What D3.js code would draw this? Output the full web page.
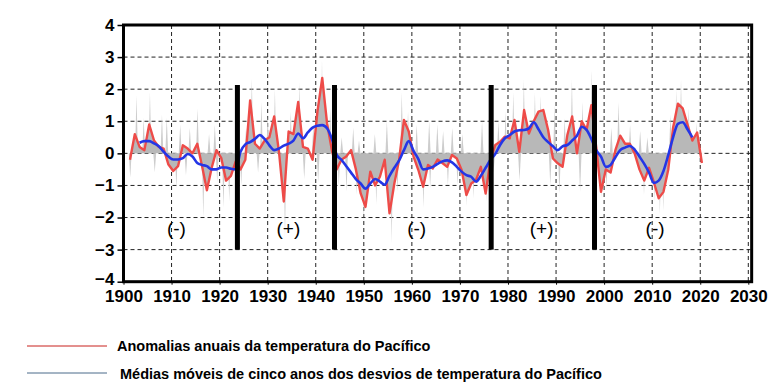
<!DOCTYPE html>
<html><head><meta charset="utf-8">
<script src="https://cdn.jsdelivr.net/npm/d3@7"></script>
<style>body{margin:0;background:#fff}svg{display:block}</style>
</head><body>
<svg id="c" width="774" height="391"></svg>
<script>
// ---- data ----
const redStart = 1901;
const annualAnom = [-0.2,0.6,0.2,0.1,0.9,0.4,0.2,0.15,-0.35,-0.55,
 -0.4,0.25,0.15,0.0,0.3,-0.4,-1.15,-0.45,0.1,-0.15,
 -0.85,-0.7,-0.25,-0.5,-0.2,1.65,0.3,0.15,0.4,0.5,
 1.15,0.05,-1.5,0.68,0.6,1.6,0.2,0.15,-0.2,1.3,
 2.35,0.94,0.1,-0.5,-0.2,-0.1,0.1,-0.5,-1.25,-1.67,
 -0.57,-1.0,-0.73,-0.2,-1.87,-0.94,-0.2,1.04,0.68,-0.1,
 -0.52,-1.04,-0.36,-0.47,-0.19,-0.3,-0.42,-0.05,-0.16,-0.52,
 -1.3,-0.94,-0.83,-0.42,-1.25,-0.2,0.26,0.36,0.52,0.47,
 1.04,0.05,1.35,0.62,1.0,1.3,1.35,0.73,-0.16,-0.31,
 -0.42,0.57,1.15,0.0,1.0,0.73,1.5,0.2,-1.2,-0.5,
 -0.6,0.1,0.55,0.3,0.3,0.0,-0.5,-0.85,-0.45,-0.9,
 -1.4,-1.2,-0.5,0.8,1.55,1.4,0.9,0.4,0.65,-0.3];
const blueStart = 1903;
const movingAvg = [0.33,0.38,0.38,0.31,0.22,0.05,-0.1,-0.19,-0.19,-0.15,
 -0.02,-0.1,-0.3,-0.36,-0.4,-0.5,-0.5,-0.44,-0.44,-0.48,
 -0.5,0.05,0.28,0.35,0.45,0.57,0.45,0.25,0.1,0.15,
 0.24,0.3,0.4,0.62,0.47,0.65,0.8,0.86,0.88,0.78,
 0.45,-0.05,-0.2,-0.4,-0.6,-0.8,-0.94,-1.1,-0.94,-0.8,
 -0.88,-0.98,-0.7,-0.45,-0.22,0.1,0.38,0.08,-0.18,-0.5,
 -0.47,-0.42,-0.33,-0.25,-0.22,-0.28,-0.42,-0.57,-0.68,-0.73,
 -0.88,-0.7,-0.45,-0.2,-0.02,0.26,0.47,0.57,0.68,0.72,
 0.73,0.78,0.97,0.75,0.5,0.35,0.22,0.1,0.22,0.26,
 0.4,0.55,0.83,0.73,0.45,0.1,-0.1,-0.42,-0.36,-0.12,
 0.1,0.18,0.23,0.12,-0.1,-0.33,-0.6,-0.92,-0.85,-0.55,
 -0.05,0.5,0.92,0.97,0.75,0.5];
// monthly extremes (gray spikes)
const spikeYears = [1902.7,1904.2,1905.5,1908,1909,1911.8,1913.8,1915.4,1917.8,1919,1925.5,1926.7,1928.7,1930,1931.5,
 1934.8,1936.6,1939.5,1941.3,1943,1945.4,1947.8,1949,1952.3,1954.8,1957.9,1959.2,1961,1963.6,1965.3,1966.5,
 1968.4,1970.5,1974.6,1978,1979.5,1981.1,1983.3,1985.6,1986.8,1989.7,1991.8,1993.3,1995.5,1997.4,
 2001.5,2003,2005.4,2007.5,2009,2013.8,2015,2016,2017.6,2019.2,
 1901.4,1906.5,1911,1913,1916.6,1919.5,1920.8,1922,1924.5,1928,1933.6,1937.6,1940.5,1944.8,1946.4,
 1948.5,1950,1952.6,1955.8,1957,1962.4,1963.8,1967.5,1969.5,1971.4,1972.8,1975.6,1977,1982.4,
 1988.8,1990.7,1995,1999.5,2000.5,2008.3,2010.5,2011.6,2012.3];
const spikeValues = [1.8,1.1,1.9,1.2,1.1,0.9,0.8,1.4,0.6,0.9,0.8,2.35,1.6,1.2,2.0,
 1.3,2.2,0.9,2.9,1.4,0.5,0.8,0.4,0.6,1.0,1.9,1.3,0.9,1.0,0.9,0.7,
 0.8,0.6,1.0,1.0,1.3,1.9,2.3,1.9,1.8,1.5,1.1,2.3,1.6,2.6,
 0.8,1.6,0.9,0.7,0.5,1.2,2.0,2.3,1.4,0.95,
 -0.75,-0.6,-1.1,-0.7,-2.0,-0.9,-1.7,-1.5,-1.0,-0.6,-2.6,-0.8,-0.9,-1.0,-1.2,
 -1.3,-2.1,-1.6,-2.8,-1.2,-1.7,-1.1,-1.0,-1.0,-1.65,-1.4,-1.5,-0.6,-0.85,
 -1.0,-1.25,-1.2,-1.4,-1.1,-1.3,-1.5,-1.9,-1.8];
const regimeYears = [1923.7,1943.9,1976.5,1998.0];
const regimeTop = 2.13, regimeBottom = -3;
const phaseYears = [1911,1934.3,1961,1987,2010.6];
const phaseLabels = ["(-)","(+)","(-)","(+)","(-)"];
const phaseLevel = -2.33;
const xTicks = d3.range(1900,2031,10);
const yTicks = [-4,-3,-2,-1,0,1,2,3,4];
const legendLabels = ["Anomalias anuais da temperatura do Pacífico",
 "Médias móveis de cinco anos dos desvios de temperatura do Pacífico"];

// ---- scales ----
const svg = d3.select("#c");
const x = d3.scaleLinear().domain([1900,2030]).range([123.5,748.3]);
const y = d3.scaleLinear().domain([-4,4]).range([281.7,25]);
const off = 0.35;
const red = annualAnom.map((v,i)=>({t:redStart+i+off,v}));
const blue = movingAvg.map((v,i)=>({t:blueStart+i+off,v}));

// grid
const grid = svg.append("g").attr("stroke","#222").attr("stroke-width",1).attr("stroke-dasharray","4,3");
xTicks.filter(d=>d>1900).forEach(d=>grid.append("line")
 .attr("x1",x(d)).attr("x2",x(d)).attr("y1",y(4)).attr("y2",y(-4)));
yTicks.filter(d=>d>-4&&d<4).forEach(d=>grid.append("line")
 .attr("x1",x(1900)).attr("x2",x(2030.7)).attr("y1",y(d)).attr("y2",y(d)));

// spikes
const sp = svg.append("g");
spikeYears.forEach((t,i)=>{
  const v = spikeValues[i];
  sp.append("path").attr("d",
   `M${x(t-0.3)},${y(0)}L${x(t)},${y(v)}L${x(t+0.3)},${y(0)}Z`)
   .attr("fill","#cdcdcd");
});
// gray area
svg.append("path").datum(red)
 .attr("d",d3.area().x(d=>x(d.t)).y0(y(0)).y1(d=>y(d.v)))
 .attr("fill","#b8b8b8");

// red line
svg.append("path").datum(red)
 .attr("d",d3.line().x(d=>x(d.t)).y(d=>y(d.v)))
 .attr("fill","none").attr("stroke","#ee4b48").attr("stroke-width",2.4).attr("stroke-linejoin","round");
// blue line
svg.append("path").datum(blue)
 .attr("d",d3.line().curve(d3.curveMonotoneX).x(d=>x(d.t)).y(d=>y(d.v)))
 .attr("fill","none").attr("stroke","#2436e6").attr("stroke-width",2.6);

// regime bars
regimeYears.forEach(t=>svg.append("rect")
 .attr("x",x(t)-2.5).attr("width",5)
 .attr("y",y(regimeTop)).attr("height",y(regimeBottom)-y(regimeTop)).attr("fill","#000"));

// phase labels
phaseYears.forEach((t,i)=>svg.append("text").attr("x",x(t)).attr("y",y(phaseLevel))
 .attr("text-anchor","middle").attr("dominant-baseline","central")
 .attr("font-family","Liberation Sans, Arial, sans-serif").attr("font-size",19)
 .text(phaseLabels[i]));

// frame
svg.append("rect").attr("x",x(1900)).attr("y",y(4))
 .attr("width",x(2030.7)-x(1900)).attr("height",y(-4)-y(4))
 .attr("fill","none").attr("stroke","#000").attr("stroke-width",3);

// axes
const ya = svg.append("g").attr("transform",`translate(${x(1900)},0)`)
 .call(d3.axisLeft(y).tickValues(yTicks).tickSize(6).tickPadding(3));
ya.select(".domain").remove();
ya.selectAll("line").attr("stroke-width",1.5);
ya.selectAll("text").attr("font-family","Liberation Sans, Arial, sans-serif")
 .attr("font-size",17).attr("font-weight","bold").attr("fill","#000");
ya.selectAll(".tick").filter(d=>d===-4).select("text").attr("dy","0.15em");
const xa = svg.append("g").attr("transform",`translate(0,${y(-4)})`)
 .call(d3.axisBottom(x).tickValues(xTicks).tickFormat(d3.format("d")).tickSize(3).tickPadding(5));
xa.select(".domain").remove();
xa.selectAll("text").attr("font-family","Liberation Sans, Arial, sans-serif")
 .attr("font-size",17).attr("font-weight","bold").attr("fill","#000");

// legend
const lg = svg.append("g").attr("font-family","Liberation Sans, Arial, sans-serif")
 .attr("font-size",14.5).attr("font-weight","bold");
lg.append("line").attr("x1",27).attr("x2",107).attr("y1",346).attr("y2",346)
 .attr("stroke","#c8201c").attr("stroke-width",1);
lg.append("text").attr("x",117).attr("y",346).attr("dominant-baseline","central").text(legendLabels[0]);
lg.append("line").attr("x1",27).attr("x2",107).attr("y1",373).attr("y2",373)
 .attr("stroke","#4a6a8a").attr("stroke-width",1);
lg.append("text").attr("x",120).attr("y",374).attr("dominant-baseline","central").text(legendLabels[1]);
</script>
</body></html>
